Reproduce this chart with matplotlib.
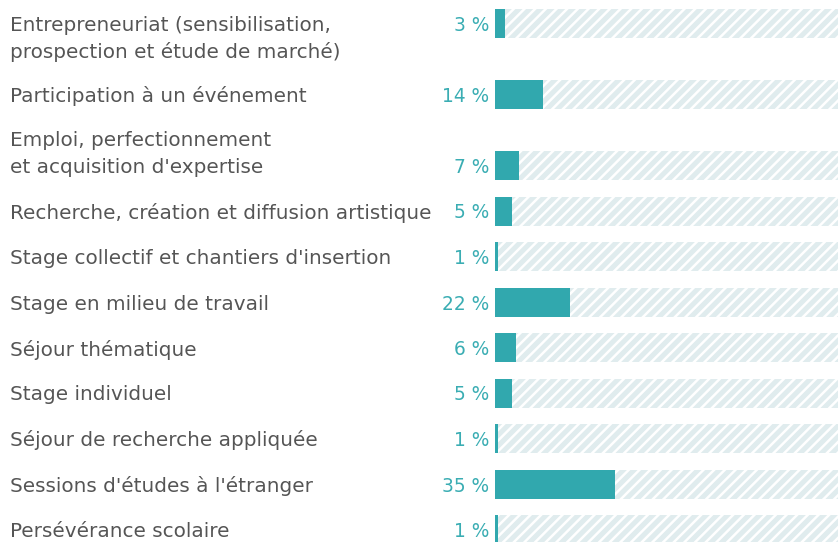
import matplotlib
matplotlib.use("Agg")
import matplotlib.pyplot as plt
from matplotlib.transforms import blended_transform_factory

categories = [
    "Entrepreneuriat (sensibilisation,\nprospection et étude de marché)",
    "Participation à un événement",
    "Emploi, perfectionnement\net acquisition d'expertise",
    "Recherche, création et diffusion artistique",
    "Stage collectif et chantiers d'insertion",
    "Stage en milieu de travail",
    "Séjour thématique",
    "Stage individuel",
    "Séjour de recherche appliquée",
    "Sessions d'études à l'étranger",
    "Persévérance scolaire",
]
values = [3, 14, 7, 5, 1, 22, 6, 5, 1, 35, 1]
value_labels = ["3 %", "14 %", "7 %", "5 %", "1 %", "22 %", "6 %", "5 %", "1 %", "35 %", "1 %"]
# which line of the label the bar is aligned with
anchor_line = [0, 0, 1, 0, 0, 0, 0, 0, 0, 0, 0]

W, H, DPI = 839, 542, 64
plt.rcParams["font.family"] = ["DejaVu Sans"]
plt.rcParams["hatch.linewidth"] = 2.8

fig = plt.figure(figsize=(W / DPI, H / DPI), dpi=DPI)
fig.patch.set_facecolor("white")
ax = fig.add_axes([495 / W, 0, 343 / W, 1])
ax.set_xlim(0, 100)
ax.set_ylim(H, 0)
ax.axis("off")

TEAL = "#31a8ae"
TEAL_TXT = "#3aadb3"
GREY = "#555555"
LIGHT = "#e0ecee"

pitch = 45.5
extra_px = 25.5
line_px = 27
ys = []
y = 23.5
for i, lab in enumerate(categories):
    if i > 0:
        prev_n = categories[i - 1].count("\n") + 1
        below_prev = prev_n - 1 - anchor_line[i - 1]
        above = anchor_line[i]
        y += pitch + extra_px * (below_prev + above)
    ys.append(y)

ax.barh(ys, [100] * len(values), height=29, color=LIGHT, edgecolor="white",
        linewidth=0, hatch="//", zorder=1)
ax.barh(ys, values, height=29, color=TEAL, linewidth=0, zorder=2)

tr = blended_transform_factory(fig.transFigure, ax.transData)
fs = 22.5
for yc, lab, vl, a in zip(ys, categories, value_labels, anchor_line):
    for k, line in enumerate(lab.split("\n")):
        ax.text(10 / W, yc + (k - a) * line_px, line, transform=tr, ha="left",
                va="center_baseline", fontsize=fs, color=GREY, clip_on=False)
    ax.text(489 / W, yc, vl, transform=tr, ha="right", va="center_baseline",
            fontsize=21, color=TEAL_TXT, clip_on=False)

fig.savefig("out.png", dpi=DPI)
